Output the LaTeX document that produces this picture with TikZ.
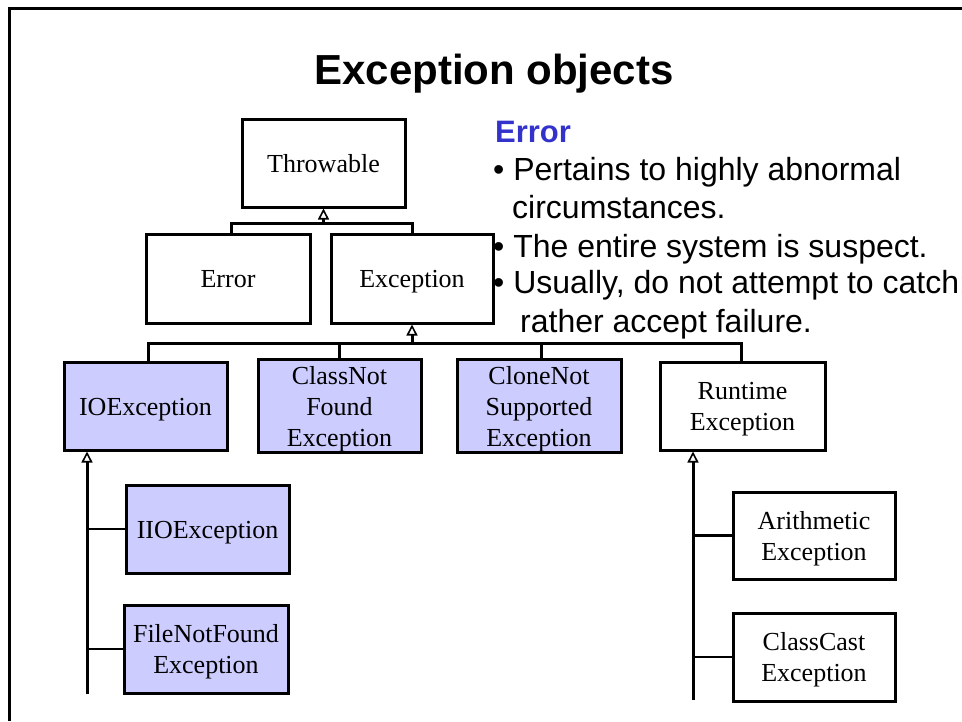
\documentclass[tikz,border=0pt]{standalone}
\usepackage{fontspec}
\setmainfont{Liberation Serif}
\newfontfamily\arialfont{Liberation Sans}
\usetikzlibrary{arrows.meta}
\definecolor{boxblue}{RGB}{204,204,255}
\definecolor{headblue}{RGB}{51,51,204}

% class name, centred lines, set a little below the box centre
\newcommand\clsname[1]{\raisebox{-3pt}[\height][\depth]{\begin{tabular}{@{}c@{}}#1\end{tabular}}}

\begin{document}
\begin{tikzpicture}[x=1pt,y=-1pt,
  cls/.style={draw, line width=3pt, inner sep=0pt,
              font=\fontsize{26}{31}\selectfont},
  sub/.style={cls, fill=boxblue},
  link/.style={line width=3pt},
  branch/.style={line width=2.5pt},
  inh/.style={line width=3pt,
              -{Triangle[open, width=11pt, length=11pt, line width=1.6pt]}},
  txt/.style={anchor=base west, inner sep=0pt,
              font=\arialfont\fontsize{32}{38}\selectfont}]

\useasboundingbox (0,0) rectangle (962,721);

% slide frame (top and left edges)
\draw[line width=3pt] (9,721) -- (9,8) -- (962,8);

% title
\node[anchor=base, inner sep=0pt, font=\arialfont\bfseries\fontsize{42}{50}\selectfont]
  (title) at (494,84) {Exception objects};

% class boxes
\node[cls, minimum width=163pt, minimum height=88pt] (throwable) at (323.5,163) {\clsname{Throwable}};
\node[cls, minimum width=164pt, minimum height=89pt] (error) at (228,278.5) {\clsname{Error}};
\node[cls, minimum width=162pt, minimum height=89pt] (exception) at (412,278.5) {\clsname{Exception}};

\node[sub, minimum width=163pt, minimum height=88pt] (io) at (145.5,406) {\clsname{IOException}};
\node[sub, minimum width=163pt, minimum height=88pt] (cnf) at (339.5,406) {\clsname{ClassNot\\Found\\Exception}};
\node[sub, minimum width=164pt, minimum height=88pt] (cns) at (539,406) {\clsname{CloneNot\\Supported\\Exception}};
\node[cls, minimum width=165pt, minimum height=88pt] (rt) at (742.5,406) {\clsname{Runtime\\Exception}};

\node[sub, minimum width=163pt, minimum height=88pt] (iio) at (207.5,529) {\clsname{IIOException}};
\node[sub, minimum width=164pt, minimum height=88pt] (fnf) at (206,649) {\clsname{FileNotFound\\Exception}};

\node[cls, minimum width=162pt, minimum height=87pt] (arith) at (814,535.5) {\clsname{Arithmetic\\Exception}};
\node[cls, minimum width=162pt, minimum height=88pt] (cce) at (814,657) {\clsname{ClassCast\\Exception}};

% Throwable hierarchy
\coordinate (j1) at (323.5,223);
\draw[link] ([xshift=3pt]error.north) |- (j1) -| (exception.north);
\draw[inh] (j1) -- (throwable.south);

% Exception hierarchy
\coordinate (j2) at (412,343);
\draw[link] ([xshift=2.5pt]io.north) |- ([xshift=-1.5pt]rt.north |- j2) -- ([xshift=-1.5pt]rt.north);
\draw[link] (cnf.north) -- (cnf.north |- j2);
\draw[link] ([xshift=2pt]cns.north) -- ([xshift=2pt]cns.north |- j2);
\draw[inh] (j2) -- (exception.south);

% IOException subclasses
\coordinate (iobus) at (87,694);
\draw[inh] (iobus) -- (iobus |- io.south);
\draw[branch] (iio.west) -- (iio.west -| iobus);
\draw[branch] (fnf.west) -- (fnf.west -| iobus);

% RuntimeException subclasses
\coordinate (rtbus) at (693,700);
\draw[inh] (rtbus) -- (rtbus |- rt.south);
\draw[branch] (arith.west) -- (arith.west -| rtbus);
\draw[branch] (cce.west) -- (cce.west -| rtbus);

% notes on Error
\node[txt, text=headblue, font=\arialfont\bfseries\fontsize{31}{37}\selectfont]
  (head) at (495,142) {Error};
\node[txt] (l1) at (493,180) {\textbullet\ Pertains to highly abnormal};
\node[txt] (l2) at (512,218) {circumstances.};
\node[txt] (l3) at (493,257) {\textbullet\ The entire system is suspect.};
\node[txt] (l4) at (493,293) {\textbullet\ Usually, do not attempt to catch;};
\node[txt] (l5) at (520,332) {rather accept failure.};

\end{tikzpicture}
\end{document}
